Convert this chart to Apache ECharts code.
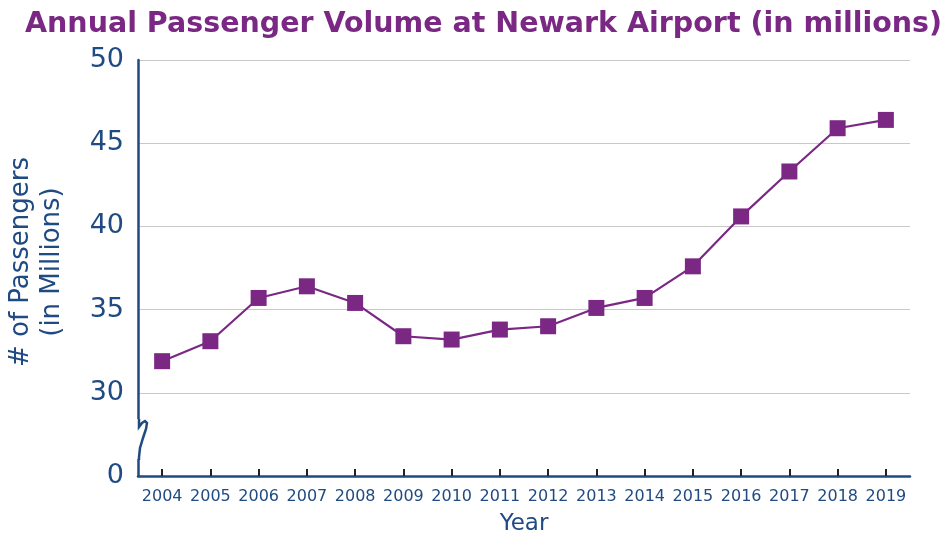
<!DOCTYPE html>
<html><head><meta charset="utf-8">
<script src="https://cdn.jsdelivr.net/npm/echarts@6/dist/echarts.min.js"></script>
<style>html,body{margin:0;padding:0;background:#fff}#c{width:947px;height:535px}</style>
</head><body><div id="c"></div>
<script>
const years = ['2004','2005','2006','2007','2008','2009','2010','2011','2012','2013','2014','2015','2016','2017','2018','2019'];
const passengers = [31.9, 33.1, 35.7, 36.4, 35.4, 33.4, 33.2, 33.8, 34.0, 35.1, 35.7, 37.6, 40.6, 43.3, 45.9, 46.4];
const yTicks = [25, 30, 35, 40, 45, 50];
const yTickLabels = ['0', '30', '35', '40', '45', '50'];

const chart = echarts.init(document.getElementById('c'));
const blue = '#1f4a82';
const purple = '#7a2884';
chart.setOption({
  animation: false,
  title: {
    text: 'Annual Passenger Volume at Newark Airport (in millions)',
    left: 20, top: 5,
    textStyle: {color: purple, fontSize: 28.5, fontWeight: 'bold', fontFamily: 'DejaVu Sans'}
  },
  grid: {left: 138, right: 37, top: 60, bottom: 59, outerBoundsMode: 'none', containLabel: false},
  xAxis: {
    type: 'category', data: years, boundaryGap: true,
    name: 'Year', nameLocation: 'middle', nameGap: 37,
    nameTextStyle: {color: blue, fontSize: 23, fontFamily: 'DejaVu Sans'},
    axisLine: {lineStyle: {color: blue, width: 2.5}},
    axisTick: {show: true, alignWithLabel: true, inside: true, length: 7, lineStyle: {color: '#222', width: 2}},
    axisLabel: {color: blue, fontSize: 16, fontFamily: 'DejaVu Sans', margin: 13, interval: 0}
  },
  yAxis: {
    type: 'value', min: 25, max: 50, interval: 5,
    name: '# of Passengers\n(in Millions)', nameLocation: 'middle', nameGap: 70, nameRotate: 90,
    nameTextStyle: {color: blue, fontSize: 26, fontFamily: 'DejaVu Sans', lineHeight: 31, padding: [0, 0, 0, 12]},
    axisLine: {show: true, lineStyle: {color: blue, width: 2.5}},
    axisTick: {show: false},
    splitLine: {show: true, lineStyle: {color: '#c8c8c8', width: 1.2}},
    axisLabel: {
      color: blue, fontSize: 27, fontFamily: 'DejaVu Sans', margin: 14,
      formatter: v => { const i = yTicks.indexOf(v); return i >= 0 ? yTickLabels[i] : ''; }
    }
  },
  graphic: [
    {type: 'rect', z: 100, shape: {x: 133, y: 419, width: 12, height: 40}, style: {fill: '#fff'}},
    {type: 'polyline', z: 101, shape: {points: [[139,419],[139,427],[142,423],[145,421],[147,423],[146,429],[143,438],[140,448],[139,457],[139,460]]},
     style: {stroke: blue, lineWidth: 2.5, fill: null}}
  ],
  series: [{
    type: 'line', data: passengers,
    symbol: 'rect', symbolSize: 16,
    lineStyle: {color: purple, width: 2.2},
    itemStyle: {color: purple}
  }]
});
</script></body></html>
